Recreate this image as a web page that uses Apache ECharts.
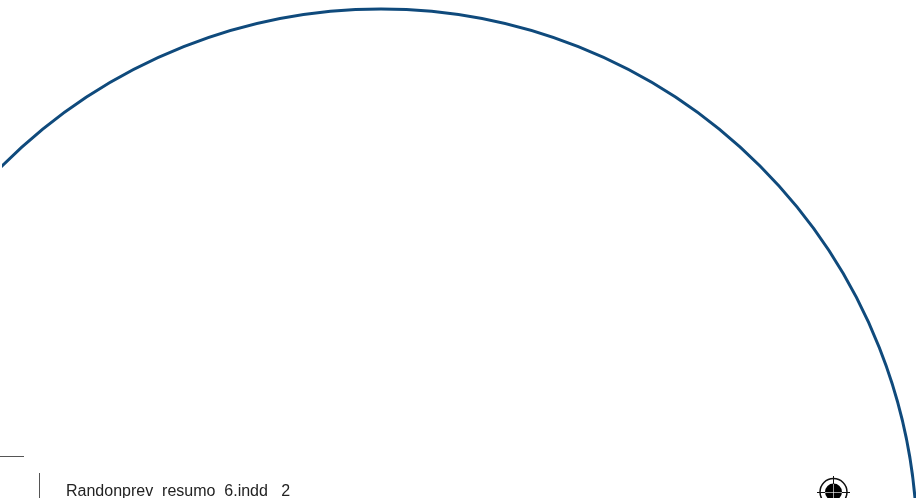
<!DOCTYPE html>
<html><head><meta charset="utf-8">
<style>html,body{margin:0;padding:0;background:#fff}#c{width:916px;height:498px}</style>
<script src="https://cdn.jsdelivr.net/npm/echarts@6/dist/echarts.min.js"></script>
</head><body><div id="c"></div>
<script>
const categories = ['Total'];
const values = [100];
const slugText = 'Randonprev  resumo  6.indd   2';
const chart = echarts.init(document.getElementById('c'), null, {renderer:'canvas'});
chart.setOption({
  animation:false,
  backgroundColor:'#fff',
  series:[{
    type:'pie', silent:true, center:[381,545], radius:[0,536],
    label:{show:false}, labelLine:{show:false},
    itemStyle:{color:'rgba(255,255,255,0)',borderColor:'#0f4a7c',borderWidth:3},
    data:categories.map((n,i)=>({name:n,value:values[i]}))
  }],
  graphic:[
    {type:'rect',shape:{x:0,y:0,width:2,height:498},style:{fill:'#fff'},z:10},
    {type:'line',shape:{x1:0,y1:456.5,x2:24,y2:456.5},style:{stroke:'#555',lineWidth:1},z:11},
    {type:'line',shape:{x1:39.5,y1:473,x2:39.5,y2:498},style:{stroke:'#555',lineWidth:1},z:11},
    {type:'text',x:66,y:484,style:{text:slugText,font:'16px "Liberation Sans"',fill:'#222'},z:11},
    {type:'circle',shape:{cx:833.5,cy:492,r:13.5},style:{fill:'none',stroke:'#111',lineWidth:1.5},z:11},
    {type:'circle',shape:{cx:833.5,cy:492,r:8.5},style:{fill:'#000'},z:11},
    {type:'line',shape:{x1:817,y1:492.5,x2:850,y2:492.5},style:{stroke:'#111',lineWidth:1},z:12},
    {type:'line',shape:{x1:833.5,y1:476,x2:833.5,y2:498},style:{stroke:'#111',lineWidth:1},z:12},
    {type:'line',shape:{x1:825,y1:492.5,x2:842,y2:492.5},style:{stroke:'#fff',lineWidth:0.6},z:13},
    {type:'line',shape:{x1:833.5,y1:484,x2:833.5,y2:498},style:{stroke:'#fff',lineWidth:0.6},z:13}
  ]
});
</script></body></html>
